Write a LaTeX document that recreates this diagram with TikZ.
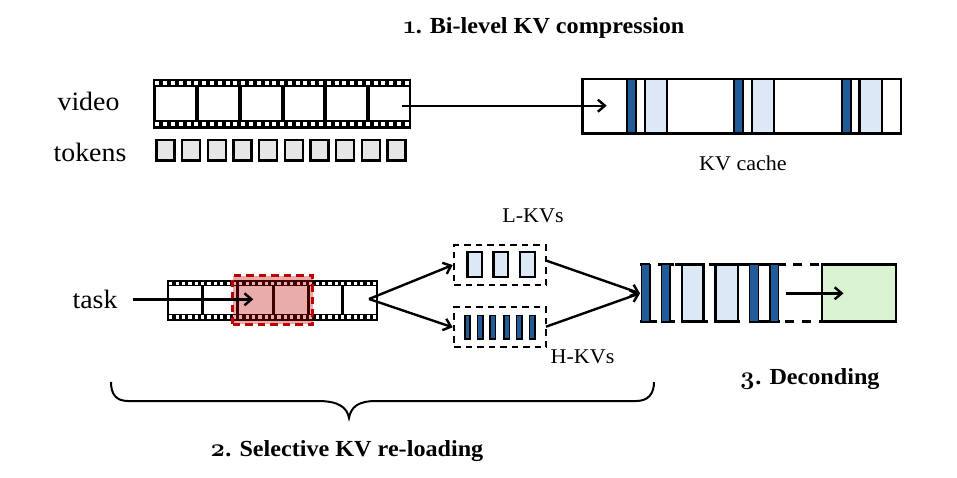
\documentclass[tikz,border=0pt]{standalone}
\usepackage{fontspec}
\setmainfont{Liberation Serif}[FakeStretch=1.05]
\newfontfamily\lmold{Latin Modern Roman}[Numbers=OldStyle,Scale=1.1]
\usetikzlibrary{arrows.meta}
\definecolor{kvdark}{HTML}{1F5C99}
\definecolor{kvlight}{HTML}{DCE8F6}
\definecolor{tokfill}{HTML}{E6E6E6}
\definecolor{gbox}{HTML}{D9F2D0}
\definecolor{redd}{HTML}{C00000}
\newcommand{\stepnum}[1]{{\lmold\bfseries #1}}
\tikzset{
  base/.style={inner sep=0,outer sep=0,draw=black,line width=2.4pt},
  white box/.style={base,fill=white},
  dark/.style={base,fill=kvdark,line width=1.7pt},
  light/.style={base,fill=kvlight},
  token/.style={base,fill=tokfill},
  green box/.style={base,fill=gbox},
  dash box/.style={base,draw=black,line width=2.3pt,dash pattern=on 6.5pt off 5pt},
  hilite/.style={inner sep=0,outer sep=0,fill=redd,fill opacity=.33,draw=redd,draw opacity=1,line width=2.6pt,dash pattern=on 7.5pt off 5pt},
  conn/.style={line width=2.4pt,-{Straight Barb[length=7pt,width=12pt,line width=2.4pt]}},
  plain/.style={line width=2.4pt,line cap=butt},
  lab/.style={inner sep=0,outer sep=0,anchor=center},
  small lab/.style={lab,font=\fontsize{21}{24}\selectfont},
  big lab/.style={lab,font=\fontsize{26.5}{28}\selectfont},
  title lab/.style={lab,font=\fontsize{23}{24}\selectfont\bfseries},
}
% name, style, x1, y1, x2, y2
\newcommand{\bx}[6]{%
  \pgfmathsetmacro{\bxw}{(#5)-(#3)}\pgfmathsetmacro{\bxh}{(#6)-(#4)}%
  \node[#2,minimum width=\bxw pt,minimum height=\bxh pt] (#1) at ({((#3)+(#5))/2},{((#4)+(#6))/2}) {};}
% film: name,x1,y1,x2,y2,band,count,perf size,line width
\newcommand{\film}[9]{%
  \bx{#1}{base,fill=black,line width=.6pt}{#2}{#3}{#4}{#5}%
  \pgfmathsetmacro{\fstep}{(#4-#2)/#7}%
  \foreach \i in {1,...,#7}{%
    \pgfmathsetmacro{\fx}{#2+(\i-.5)*\fstep}%
    \fill[white] ({\fx-#8/2},{#3+#6/2-#8/2}) rectangle ({\fx+#8/2},{#3+#6/2+#8/2});
    \fill[white] ({\fx-#8/2},{#5-#6/2-#8/2}) rectangle ({\fx+#8/2},{#5-#6/2+#8/2});
  }%
  \fill[white] ({#2+#9},{#3+#6}) rectangle ({#4-#9},{#5-#6});}
\begin{document}
\begin{tikzpicture}[x=1pt,y=-1pt]
\useasboundingbox (0,0) rectangle (957,477);

% --- part 1
\node[title lab] (t1) at (544,27.5) {\stepnum{1}. Bi-level KV compression};
\node[big lab] (video) at (88.5,101) {video};
\node[big lab] (tokens) at (90,152) {tokens};
\film{film1}{153.5}{79}{410.7}{128}{8}{33}{4}{2}
\foreach \x in {197,240,283,325,368}{\fill (\x-2,87) rectangle (\x+2,121);}
\foreach \i in {0,...,9}{\bx{tok\i}{token}{156.5+25.67*\i}{140}{174.5+25.67*\i}{160.5}}
\bx{cache}{white box}{582.3}{78.8}{901}{133.3}
\foreach \n/\a/\b in {d1/627/635.7,d2/734.3/743.3,d3/842/851}{\bx{\n}{dark}{\a}{78.8}{\b}{133.3}}
\foreach \n/\a/\b in {l1/644.7/666.7,l2/752/774,l3/859.3/881.7}{\bx{\n}{light}{\a}{78.8}{\b}{133.3}}
\node[small lab] (kvc) at (743,163) {KV cache};
\coordinate (a1s) at (401.7,105.7);
\coordinate (a1e) at (606.7,105.7);
\draw[conn] (a1s) -- (a1e);

% --- part 2
\node[big lab] (task) at (95,299) {task};
\film{film2}{167.7}{280}{377.7}{320}{6.2}{33}{3.2}{1.5}
\foreach \x in {202.7,237.3,273.3,308.3,342.7}{\fill (\x-1.6,286) rectangle (\x+1.6,314);}
\bx{hl}{hilite}{232.7}{275.7}{312.7}{324.3}
\coordinate (a2s) at (132.7,299.3);
\coordinate (a2e) at (253.3,299.3);
\draw[conn] (a2s) -- (a2e);

\bx{lbox}{dash box}{454}{245.3}{546}{285}
\bx{hbox}{dash box}{454}{307.3}{546}{347.3}
\foreach \n/\a/\b in {la/467.5/482.2,lb/493.5/508.2,lc/519.8/535}{\bx{\n}{light}{\a}{251.8}{\b}{277.2}}
\foreach \n/\a/\b in {ha/464.8/470.2,hb/477.5/482.8,hc/489.8/495.5,hd/503.8/509.5,he/516.5/522.2,hf/529.5/535.2}{\bx{\n}{dark}{\a}{315.5}{\b}{338.8}}
\node[small lab] (lk) at (533,216) {L-KVs};
\node[small lab] (hk) at (582.5,357) {H-KVs};

\coordinate (fork) at (369,299);
\coordinate (lin) at (452.7,265);
\coordinate (hin) at (452.7,327.3);
\coordinate (lout) at (546,260.5);
\coordinate (hout) at (546,326.7);
\coordinate (join) at (640,293.3);
\draw[conn] (fork) -- (lin);
\draw[conn] (fork) -- (hin);
\draw[conn] (lout) -- (join);
\draw[conn] (hout) -- (join);

% --- part 3
\draw[plain] (640,264.5) -- (650,264.5) (658,264.5) -- (674,264.5) (675,264.5) -- (705,264.5) (709,264.5) -- (786,264.5);
\draw[plain] (640,321.5) -- (657,321.5) (661,321.5) -- (675,321.5) (682,321.5) -- (708,321.5) (715,321.5) -- (740,321.5) (749,321.5) -- (780,321.5);
\draw[plain,dash pattern=on 9pt off 8pt] (793,264.5) -- (821,264.5);
\draw[plain,dash pattern=on 9pt off 8pt] (785,321.5) -- (821,321.5);
\foreach \n/\a/\b in {fa/641.5/650,fb/661.5/670.2,fc/749.5/758.5,fd/769.8/778.5}{\bx{\n}{dark}{\a}{264.5}{\b}{321.5}}
\foreach \n/\a/\b in {fe/682.2/703.5,ff/715.5/737.8}{\bx{\n}{light}{\a}{264.5}{\b}{321.5}}
\bx{gr}{green box}{822.2}{264.5}{896.2}{321.5}
\coordinate (a3s) at (785.5,293.3);
\coordinate (a3e) at (843.5,293.3);
\draw[conn] (a3s) -- (a3e);
\node[title lab] (t3) at (809.5,379.5) {\stepnum{3}. Deconding};

% --- brace
\draw[line width=2pt] (111,382) .. controls (111,394) and (116,401) .. (128,401) -- (318,401) .. controls (338,401) and (347,407) .. (349,418) .. controls (351,407) and (358,401) .. (376,401) -- (636,401) .. controls (648,401) and (654,394) .. (654,382);
\node[title lab] (t2) at (346.5,451) {\stepnum{2}. Selective KV re-loading};
\end{tikzpicture}
\end{document}
